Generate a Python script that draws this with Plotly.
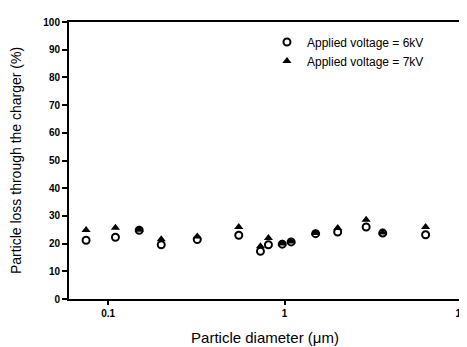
import plotly.graph_objects as go

diameter = [0.075, 0.11, 0.15, 0.20, 0.32, 0.55, 0.73, 0.81, 0.97, 1.09, 1.5, 2.0, 2.9, 3.6, 6.3]
loss_6kv = [21.2, 22.3, 24.8, 19.6, 21.5, 23.0, 17.2, 19.6, 19.8, 20.6, 23.6, 24.2, 26.0, 23.8, 23.2]
loss_7kv = [24.9, 25.7, 25.0, 21.6, 22.6, 26.0, 19.0, 22.0, 20.0, 20.8, 23.8, 25.6, 28.6, 24.0, 26.0]
y_ticks = list(range(0, 101, 10))
x_ticks = [0.1, 1, 10]
x_tick_labels = ["0.1", "1", "10"]

font = "Liberation Sans, Arial, sans-serif"

fig = go.Figure()
fig.add_trace(go.Scatter(
    x=diameter, y=loss_6kv, mode="markers", name="Applied voltage = 6kV",
    marker=dict(symbol="circle-open", size=7, color="black", line=dict(width=2, color="black")),
))
fig.add_trace(go.Scatter(
    x=diameter, y=loss_7kv, mode="markers", name="Applied voltage = 7kV",
    marker=dict(symbol="triangle-up", size=8, color="black"),
))

fig.update_layout(
    width=467, height=347,
    margin=dict(l=60, r=8, t=11, b=56),
    paper_bgcolor="white", plot_bgcolor="white",
    font=dict(family=font, color="black"),
    showlegend=True,
    legend=dict(x=0.505, y=0.98, xanchor="left", yanchor="top",
                bgcolor="rgba(0,0,0,0)", font=dict(size=12, family=font),
                itemwidth=30, tracegroupgap=0),
)
fig.update_xaxes(
    type="log", range=[-1.2218, 1],
    tickvals=x_ticks, ticktext=x_tick_labels,
    ticks="outside", ticklen=4, tickwidth=1.5, tickcolor="black",
    showline=True, linecolor="black", linewidth=2, mirror=True,
    showgrid=False, zeroline=False,
    tickfont=dict(size=10, family="Liberation Sans, Arial", weight="bold"),
    title=dict(text="Particle diameter (μm)", font=dict(size=15), standoff=14),
)
fig.update_yaxes(
    range=[0, 100], tickvals=y_ticks,
    ticks="outside", ticklen=5, tickwidth=1.5, tickcolor="black",
    showline=True, linecolor="black", linewidth=2, mirror=True,
    showgrid=False, zeroline=False,
    tickfont=dict(size=10, family="Liberation Sans, Arial", weight="bold"),
    title=dict(text="Particle loss through the charger (%)", font=dict(size=14), standoff=18),
)

fig.write_html("out.html")
